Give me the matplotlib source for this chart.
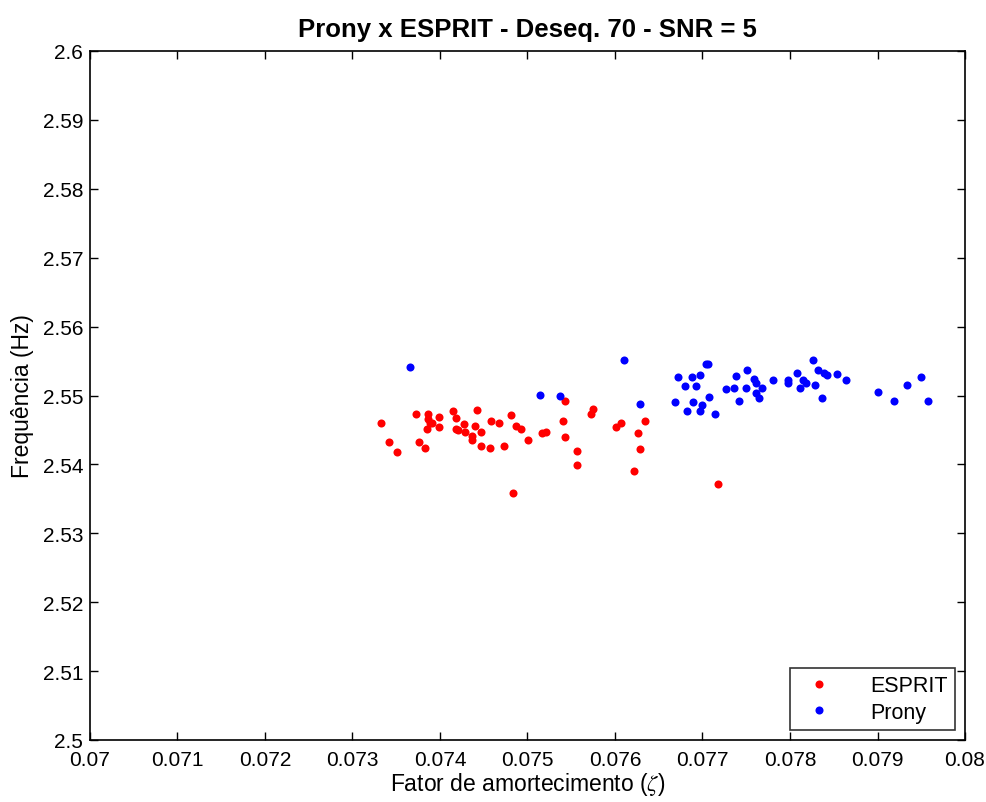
import matplotlib
matplotlib.use("Agg")
import matplotlib.pyplot as plt

plt.rcParams['font.family'] = ['Liberation Sans', 'DejaVu Sans']
plt.rcParams['mathtext.fontset'] = 'stix'

# Damping factor (zeta) and frequency estimates, ESPRIT method
esprit_zeta = [0.073326, 0.073414, 0.073512, 0.073729, 0.073763, 0.073832, 0.073863, 0.073863,
               0.073886, 0.073848, 0.073909, 0.073985, 0.073985, 0.074152, 0.074183, 0.074183,
               0.074202, 0.074271, 0.074286, 0.074369, 0.074369, 0.074400, 0.074419, 0.074472,
               0.074469, 0.074571, 0.074586, 0.074674, 0.074735, 0.074808, 0.074838, 0.074869,
               0.074926, 0.075009, 0.075162, 0.075208, 0.075432, 0.075409, 0.075429, 0.075562,
               0.075562, 0.075745, 0.075726, 0.076065, 0.076015, 0.076339, 0.076266, 0.076286,
               0.076217, 0.077174]
esprit_freq = [2.54605, 2.54325, 2.54180, 2.54731, 2.54325, 2.54242, 2.54731, 2.54655,
               2.54605, 2.54518, 2.54605, 2.54692, 2.54543, 2.54775, 2.54669, 2.54518,
               2.54495, 2.54582, 2.54475, 2.54416, 2.54350, 2.54562, 2.54794, 2.54475,
               2.54263, 2.54242, 2.54626, 2.54605, 2.54263, 2.54713, 2.53580, 2.54562,
               2.54518, 2.54350, 2.54456, 2.54475, 2.54920, 2.54626, 2.54393, 2.54199,
               2.53987, 2.54804, 2.54727, 2.54605, 2.54538, 2.54626, 2.54451, 2.54219,
               2.53900, 2.53711]

# Damping factor (zeta) and frequency estimates, Prony method
prony_zeta = [0.073660, 0.075143, 0.075375, 0.076099, 0.076286, 0.076720, 0.076877, 0.076975,
              0.077040, 0.077063, 0.076803, 0.076926, 0.077074, 0.076689, 0.076891, 0.076994,
              0.076823, 0.076971, 0.077139, 0.077272, 0.077360, 0.077379, 0.077414, 0.077494,
              0.077512, 0.077592, 0.077611, 0.077680, 0.077611, 0.077646, 0.077802, 0.077980,
              0.077980, 0.078083, 0.078117, 0.078152, 0.078186, 0.078266, 0.078320, 0.078389,
              0.078423, 0.078289, 0.078369, 0.078537, 0.078637, 0.079006, 0.079192, 0.079341,
              0.079497, 0.079580]
prony_freq = [2.55414, 2.55012, 2.54988, 2.55520, 2.54877, 2.55264, 2.55264, 2.55302,
              2.55457, 2.55457, 2.55134, 2.55134, 2.54983, 2.54901, 2.54901, 2.54862,
              2.54771, 2.54771, 2.54731, 2.55090, 2.55113, 2.55283, 2.54920, 2.55113,
              2.55370, 2.55244, 2.55177, 2.55113, 2.55032, 2.54964, 2.55225, 2.55225,
              2.55177, 2.55331, 2.55113, 2.55225, 2.55177, 2.55520, 2.55370, 2.55331,
              2.55302, 2.55157, 2.54968, 2.55308, 2.55225, 2.55051, 2.54920, 2.55157,
              2.55264, 2.54920]

x_ticks = [0.07, 0.071, 0.072, 0.073, 0.074, 0.075, 0.076, 0.077, 0.078, 0.079, 0.08]
x_tick_labels = ['0.07', '0.071', '0.072', '0.073', '0.074', '0.075', '0.076', '0.077',
                 '0.078', '0.079', '0.08']
y_ticks = [2.5, 2.51, 2.52, 2.53, 2.54, 2.55, 2.56, 2.57, 2.58, 2.59, 2.6]
y_tick_labels = ['2.5', '2.51', '2.52', '2.53', '2.54', '2.55', '2.56', '2.57', '2.58',
                 '2.59', '2.6']

fig = plt.figure(figsize=(9.87, 8.03), dpi=100)
ax = fig.add_axes([90 / 987, 1 - 741 / 803, 875 / 987, 689 / 803])

ax.plot(esprit_zeta, esprit_freq, 'o', color='#ff0000', markersize=5.8, markeredgewidth=0,
        label='ESPRIT')
ax.plot(prony_zeta, prony_freq, 'o', color='#0000ff', markersize=5.8, markeredgewidth=0,
        label='Prony')

ax.set_xlim(0.07, 0.08)
ax.set_ylim(2.5, 2.6)
ax.set_xticks(x_ticks)
ax.set_xticklabels(x_tick_labels)
ax.set_yticks(y_ticks)
ax.set_yticklabels(y_tick_labels)
ax.tick_params(direction='in', top=True, right=True, length=6, width=1,
               labelsize=15, colors='black')
ax.tick_params(axis='x', pad=7)
ax.tick_params(axis='y', pad=5)
for s in ax.spines.values():
    s.set_linewidth(1.2)

ax.set_xlabel(r'Fator de amortecimento ($\zeta$)', fontsize=16.5, labelpad=1)
ax.set_ylabel('Frequência (Hz)', fontsize=16.5, labelpad=6)
ax.set_title('Prony x ESPRIT - Deseq. 70 - SNR = 5', fontsize=18.5, fontweight='bold', pad=11)

leg = ax.legend(loc='lower right', fontsize=15.5, frameon=True, fancybox=False,
                edgecolor='black', borderpad=0.35, handletextpad=1.4, handlelength=2.0,
                markerscale=1.0, borderaxespad=0.45, labelspacing=0.25)
leg.get_frame().set_linewidth(1.2)

fig.savefig('out.png', dpi=100, facecolor='white')
